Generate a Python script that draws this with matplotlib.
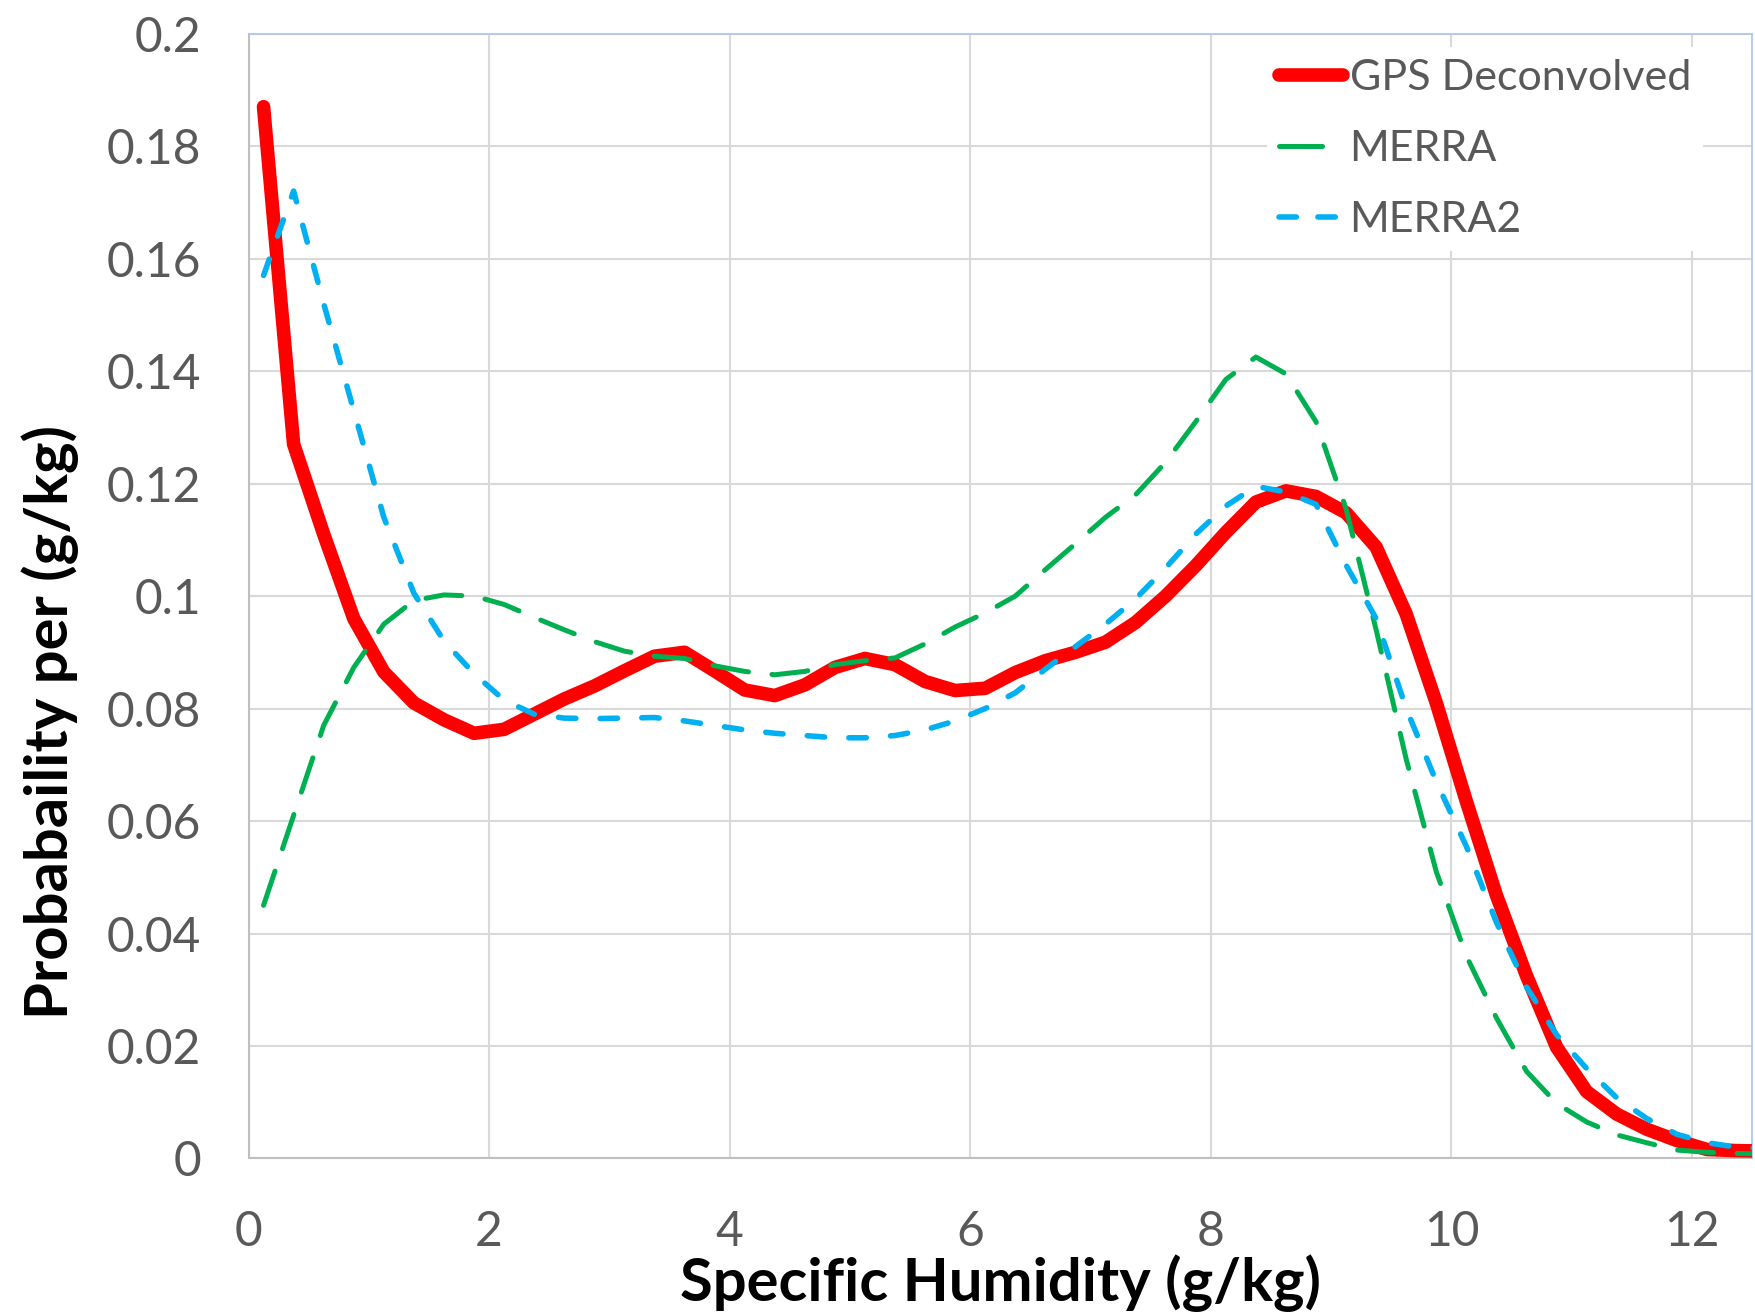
import numpy as np
import matplotlib
matplotlib.use("Agg")
import matplotlib.pyplot as plt
from matplotlib.lines import Line2D

# Specific humidity bin centres (g/kg)
humidity = [0.125 + 0.25 * k for k in range(51)]

# Probability density per (g/kg) for each source
gps_deconvolved = [
    0.187, 0.127, 0.111, 0.096, 0.0865, 0.081, 0.078, 0.0756, 0.0763, 0.079,
    0.0817, 0.084, 0.0867, 0.0893, 0.0900, 0.0867, 0.0833, 0.0823, 0.0842, 0.0873,
    0.0889, 0.0878, 0.0848, 0.0832, 0.0836, 0.0864, 0.0885, 0.0900, 0.0918, 0.0953,
    0.1000, 0.1054, 0.1113, 0.1167, 0.1187, 0.1177, 0.1148, 0.1087, 0.0968, 0.0810,
    0.0635, 0.0468, 0.0325, 0.0198, 0.0119, 0.0079, 0.0052, 0.0032, 0.0016, 0.0014,
    0.0013,
]
merra = [
    0.045, 0.061, 0.077, 0.0873, 0.0950, 0.0992, 0.1002, 0.1000, 0.0985, 0.0962,
    0.0940, 0.0919, 0.0902, 0.0893, 0.0889, 0.0876, 0.0866, 0.0860, 0.0866, 0.0878,
    0.0885, 0.0890, 0.0915, 0.0945, 0.0970, 0.1000, 0.1047, 0.1093, 0.1140, 0.1180,
    0.1238, 0.1310, 0.1385, 0.1425, 0.1395, 0.1310, 0.1155, 0.0940, 0.0710, 0.0510,
    0.0360, 0.0250, 0.0155, 0.0098, 0.0065, 0.0042, 0.0028, 0.0015, 0.0011, 0.0009,
    0.0008,
]
merra2 = [
    0.157, 0.172, 0.152, 0.133, 0.114, 0.1005, 0.0920, 0.0862, 0.0815, 0.0790,
    0.0783, 0.0782, 0.0783, 0.0784, 0.0778, 0.0770, 0.0762, 0.0756, 0.0752, 0.0748,
    0.0748, 0.0752, 0.0762, 0.0778, 0.0800, 0.0828, 0.0870, 0.0910, 0.0950, 0.0995,
    0.1050, 0.1110, 0.1160, 0.1195, 0.1185, 0.1163, 0.1055, 0.0960, 0.0800, 0.0670,
    0.0555, 0.0420, 0.0305, 0.0220, 0.0160, 0.0108, 0.0071, 0.0043, 0.0028, 0.0020,
    0.0017,
]

series_labels = ["GPS Deconvolved", "MERRA", "MERRA2"]
x_ticks = [0, 2, 4, 6, 8, 10, 12]
y_ticks = [0, 0.02, 0.04, 0.06, 0.08, 0.1, 0.12, 0.14, 0.16, 0.18, 0.2]
y_tick_labels = ["0", "0.02", "0.04", "0.06", "0.08", "0.1", "0.12", "0.14", "0.16", "0.18", "0.2"]

RED = "#FF0000"
GREEN = "#00B050"
BLUE = "#00B0F0"
TICK_GREY = "#595959"
GRID_GREY = "#D9D9D9"

plt.rcParams["font.family"] = ["Lato", "DejaVu Sans"]
plt.rcParams["lines.scale_dashes"] = False

fig = plt.figure(figsize=(17.55, 13.12), dpi=100)
ax = fig.add_axes([0.1416, 0.1170, 0.8567, 0.8574])

ax.plot(humidity, gps_deconvolved, color=RED, lw=9.8,
        solid_capstyle="round", solid_joinstyle="round", zorder=3)
ax.plot(humidity, merra, color=GREEN, lw=3.6, linestyle=(0, (26, 17)),
        dash_capstyle="round", dash_joinstyle="round", zorder=4)
ax.plot(humidity, merra2, color=BLUE, lw=4.0, linestyle=(0, (12.5, 17.5)),
        dash_capstyle="round", dash_joinstyle="round", zorder=5)

ax.set_xlim(0, 12.5)
ax.set_ylim(0, 0.2)
ax.set_xticks(x_ticks)
ax.set_xticklabels([str(t) for t in x_ticks])
ax.set_yticks(y_ticks)
ax.set_yticklabels(y_tick_labels)
ax.tick_params(axis="both", length=0, labelsize=34.5, labelcolor=TICK_GREY)
ax.tick_params(axis="y", pad=34)
ax.tick_params(axis="x", pad=37)

ax.grid(True, color=GRID_GREY, lw=1.5, zorder=0)
ax.set_axisbelow(True)

for side in ("top", "right"):
    ax.spines[side].set_color("#A9C4EB")
    ax.spines[side].set_linewidth(1.2)
for side in ("left", "bottom"):
    ax.spines[side].set_color("#BFBFBF")
    ax.spines[side].set_linewidth(1.5)

ax.set_xlabel("Specific Humidity (g/kg)", fontsize=43, fontweight="bold", color="black")
ax.set_ylabel("Probabaility per (g/kg)", fontsize=43, fontweight="bold", color="black")
ax.xaxis.set_label_coords(0.5, -0.085)
ax.yaxis.set_label_coords(-0.113, 0.388)

handles = [
    Line2D([], [], color=RED, lw=9.8, solid_capstyle="round"),
    Line2D([], [], color=GREEN, lw=3.6, linestyle=(0, (31, 40)), dash_capstyle="round"),
    Line2D([], [], color=BLUE, lw=4.0, linestyle=(0, (12.5, 15.5)), dash_capstyle="round"),
]
leg = ax.legend(handles, series_labels, loc="upper left",
                bbox_to_anchor=(0.7219, 0.9642), bbox_transform=fig.transFigure,
                fontsize=31, frameon=True, facecolor="white", edgecolor="none",
                framealpha=1.0, fancybox=False, borderpad=0.28, borderaxespad=0,
                handlelength=1.49, handletextpad=0.15, labelspacing=0.77)
for txt in leg.get_texts():
    txt.set_color(TICK_GREY)
leg.set_zorder(2)

fig.savefig("out.png", dpi=100, facecolor="white")
